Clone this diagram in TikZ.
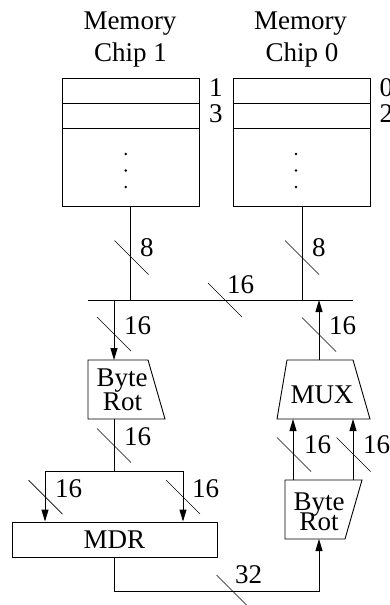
\documentclass[tikz,border=0pt]{standalone}
\usepackage{fontspec}
\setmainfont{Liberation Serif}
\usetikzlibrary{arrows.meta}
\begin{document}
\begin{tikzpicture}[x=1pt,y=-1pt,
  ln/.style={line width=0.9pt},
  arr/.style={ln,-{Triangle[length=12pt,width=7pt]}},
  slash/.style={line width=0.7pt},
  lbl/.style={anchor=west,inner sep=0pt,font=\fontsize{27}{32}\selectfont},
  txt/.style={anchor=base,inner sep=0pt,font=\fontsize{27}{32}\selectfont},
  box/.style={draw,line width=0.9pt,inner sep=0pt,font=\fontsize{27}{32}\selectfont}]
\useasboundingbox (0,0) rectangle (389,605);

% titles
\node[txt] (t1a) at (130,29.6) {Memory};
\node[txt] (t1b) at (130.5,61.8) {Chip 1};
\node[txt] (t0a) at (300.5,29.6) {Memory};
\node[txt] (t0b) at (302,61.8) {Chip 0};

% memory chips
\node[box,minimum width=137pt,minimum height=127.7pt] (chip1) at (130.8,142.15) {};
\node[box,minimum width=136.6pt,minimum height=127.7pt] (chip0) at (302,142.15) {};
\draw[ln] (62.3,103.3) -- (199.3,103.3);
\draw[ln] (62.3,128.3) -- (199.3,128.3);
\draw[ln] (233.7,103.3) -- (370.3,103.3);
\draw[ln] (233.7,128.3) -- (370.3,128.3);
\fill (125.7,154) circle (1.4pt) (125.7,170.5) circle (1.4pt) (125.7,187) circle (1.4pt);
\fill (296,154) circle (1.4pt) (296,170.5) circle (1.4pt) (296,187) circle (1.4pt);
\node[lbl] (r1) at (209,87.5) {1};
\node[lbl] (r3) at (209,113.3) {3};
\node[lbl] (r0) at (379.5,87.5) {0};
\node[lbl] (r2) at (379.5,113.3) {2};

% bus
\coordinate (busL) at (88,300);
\coordinate (busR) at (353,300);
\draw[ln] (busL) -- (busR);
\draw[ln] (chip1.south) -- (chip1.south |- busL);
\draw[ln] (chip0.south) -- (chip0.south |- busL);

% left byte rot
\coordinate (b1tl) at (88,360);
\coordinate (b1tr) at (148,360);
\coordinate (b1br) at (165,419);
\coordinate (b1bl) at (88,419);
\draw[ln] (b1tl) -- (b1tr) -- (b1br) -- (b1bl) -- cycle;
\node[txt] (b1x) at (122,386.7) {Byte};
\node[txt] (b1y) at (122.5,410) {Rot};
\coordinate (dL) at (114,300);
\coordinate (b1in) at (114,360);
\coordinate (b1out) at (114,419);
\draw[arr] (dL) -- (b1in);

% split to MDR
\coordinate (split) at (114,471);
\coordinate (mL) at (45,471);
\coordinate (mR) at (183,471);
\node[box,minimum width=205pt,minimum height=35pt] (mdr) at (114.5,539.5) {MDR};
\draw[ln] (b1out) -- (split);
\draw[ln] (mL) -- (mR);
\draw[arr] (mL) -- (mL |- mdr.north);
\draw[arr] (mR) -- (mR |- mdr.north);

% right byte rot
\coordinate (b2tl) at (285,480);
\coordinate (b2tr) at (362,480);
\coordinate (b2br) at (345,539);
\coordinate (b2bl) at (285,539);
\draw[ln] (b2tl) -- (b2tr) -- (b2br) -- (b2bl) -- cycle;
\node[txt] (b2x) at (319,510) {Byte};
\node[txt] (b2y) at (319,530.7) {Rot};
\coordinate (b2in) at (319,539);
\draw[arr] (mdr.south) -- ++(0,34) -| (b2in);

% MUX
\coordinate (mxtl) at (287,360);
\coordinate (mxtr) at (353,360);
\coordinate (mxbr) at (370,419);
\coordinate (mxbl) at (277,419);
\draw[ln] (mxtl) -- (mxtr) -- (mxbr) -- (mxbl) -- cycle;
\node[txt] (mux) at (322,403.3) {MUX};
\coordinate (b2o1) at (293,480);
\coordinate (b2o2) at (353,480);
\draw[arr] (b2o1) -- (b2o1 |- mxbl);
\draw[arr] (b2o2) -- (b2o2 |- mxbl);
\coordinate (mxout) at (319,360);
\draw[arr] (mxout) -- (mxout |- busL);

% bus-width slashes
\draw[slash] (131.5,257.5) +(-17,-17) -- +(17,17);
\draw[slash] (302,257.5) +(-17,-17) -- +(17,17);
\draw[slash] (225,300) +(-17,-17) -- +(17,17);
\draw[slash] (114,334) +(-17,-17) -- +(17,17);
\draw[slash] (114,445.5) +(-17,-17) -- +(17,17);
\draw[slash] (45.5,497) +(-17,-17) -- +(17,17);
\draw[slash] (183,497) +(-17,-17) -- +(17,17);
\draw[slash] (319,334.5) +(-17,-17) -- +(17,17);
\draw[slash] (294,454.5) +(-17,-17) -- +(17,17);
\draw[slash] (353.5,454.5) +(-17,-17) -- +(17,17);
\draw[slash] (232.5,591) +(-16,-16) -- +(16,16);

% width labels
\node[lbl] (w1) at (140,248) {8};
\node[lbl] (w2) at (312,248) {8};
\node[lbl] (w3) at (227,285) {16};
\node[lbl] (w4) at (124,326) {16};
\node[lbl] (w5) at (124,437) {16};
\node[lbl] (w6) at (55,489) {16};
\node[lbl] (w7) at (192,489) {16};
\node[lbl] (w8) at (329,326) {16};
\node[lbl] (w9) at (304,445) {16};
\node[lbl] (w10) at (363,445) {16};
\node[lbl] (w11) at (235,575) {32};
\end{tikzpicture}
\end{document}
